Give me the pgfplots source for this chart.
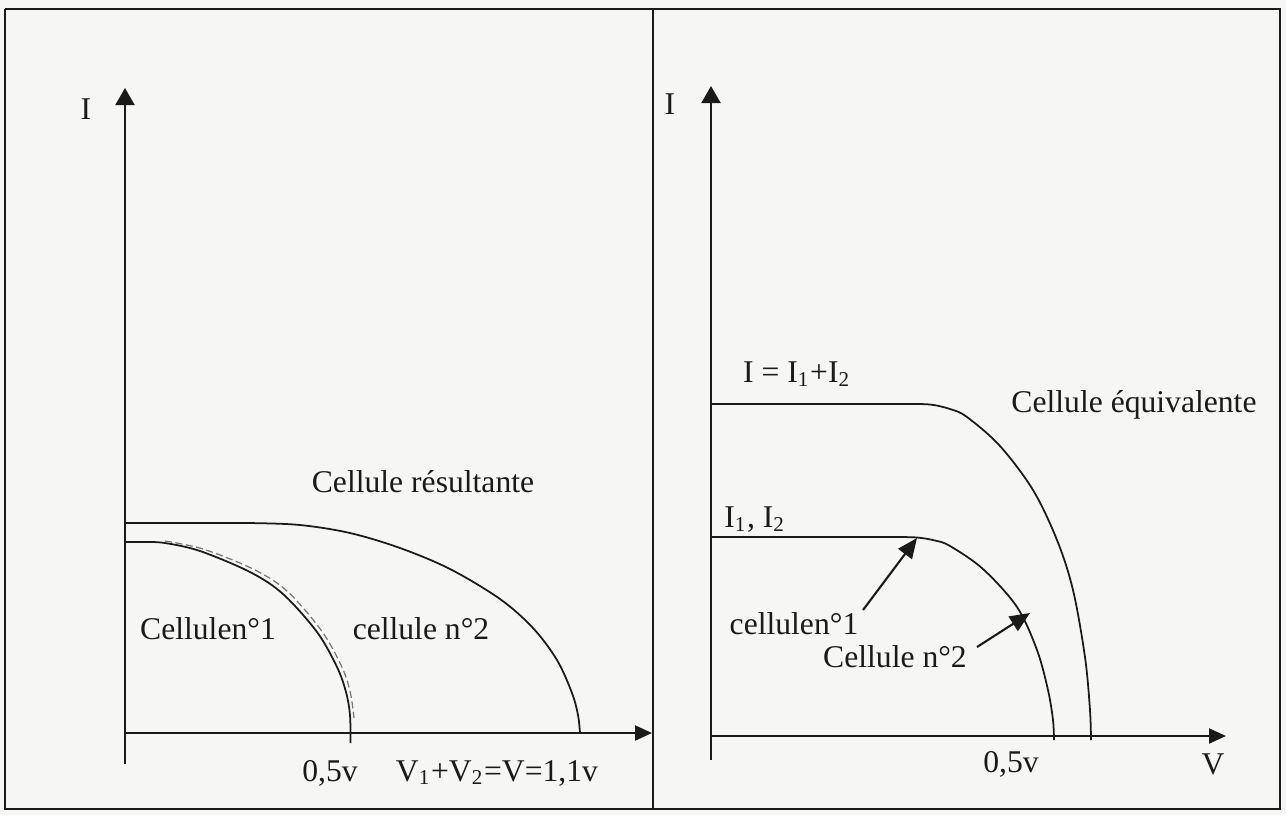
\documentclass[border=0pt]{standalone}
\usepackage{fontspec}
\setmainfont{Liberation Serif}
\usepackage{pgfplots}
\pgfplotsset{compat=1.18}
\usetikzlibrary{arrows.meta}
\definecolor{paper}{HTML}{F6F6F4}
\definecolor{ink}{HTML}{1A1A1A}
\begin{document}
\begin{tikzpicture}[every node/.style={font=\fontsize{9}{11}\selectfont, text=ink}]
\begin{axis}[
  scale only axis, width=12.86cm, height=8.15cm,
  xmin=0, xmax=1286, ymin=0, ymax=815, y dir=reverse,
  hide axis, clip=false,
]
% background and frame
\addplot[fill=paper, draw=none] coordinates {(0,0) (1286,0) (1286,815) (0,815)} -- cycle;
\addplot[ink, line width=0.7pt] coordinates {(5,9) (1280,9) (1280,809) (5,809) (5,9)};
\addplot[ink, line width=0.7pt] coordinates {(653,9) (653,809)};

% ----- left panel axes -----
\addplot[ink, line width=0.6pt, -{Triangle[length=1.7mm,width=1.9mm]}] coordinates {(125,764) (125,88)};
\addplot[ink, line width=0.6pt, -{Triangle[length=1.7mm,width=1.5mm]}] coordinates {(125,733) (652,733)};
% cellule resultante
\addplot[ink, line width=0.5pt] coordinates {(125,523) (220,523)};
\addplot[ink, line width=0.5pt, smooth, tension=0.55] coordinates {
 (220,523) (250,523) (300,525) (350,533) (400,548) (450,569) (500,599) (533,628) (557,660) (572,693) (578,715) (580,733)};
% cellule 1 (solid + dashed double)
\addplot[ink, line width=0.5pt] coordinates {(125,542) (145,542)};
\addplot[ink, line width=0.5pt, smooth, tension=0.55] coordinates {
 (145,542) (165,543) (200,551) (250,572) (283,594) (317,632) (337,667) (346,692) (350,715) (350.5,743)};
\addplot[ink!60, line width=0.35pt, dash pattern=on 2pt off 1pt, smooth, tension=0.55] coordinates {
 (165,541) (203,549) (253,569) (287,591) (321,630) (341,665) (350,691) (354,718)};

\node at (axis cs:86,109) {I};
\node at (axis cs:423,482) {Cellule résultante};
\node at (axis cs:208,629) {Cellulen°1};
\node at (axis cs:421,629) {cellule n°2};
\node at (axis cs:330,773) {0,5v};
\node at (axis cs:497,773) {V\textsubscript{1}+V\textsubscript{2}=V=1,1v};

% ----- right panel axes -----
\addplot[ink, line width=0.6pt, -{Triangle[length=1.7mm,width=1.9mm]}] coordinates {(711,760) (711,86)};
\addplot[ink, line width=0.6pt, -{Triangle[length=1.7mm,width=1.5mm]}] coordinates {(711,736) (1226,736)};
% cellule equivalente
\addplot[ink, line width=0.5pt] coordinates {(711,404) (905,404)};
\addplot[ink, line width=0.5pt, smooth, tension=0.55] coordinates {
 (905,404) (930,404.5) (950,409) (967,417) (1000,446) (1033,490) (1057,540) (1073,590) (1085,657) (1090,710) (1091,740)};
% cellules 1 et 2
\addplot[ink, line width=0.5pt] coordinates {(711,537) (895,537)};
\addplot[ink, line width=0.5pt, smooth, tension=0.55] coordinates {
 (895,537) (917,537.5) (935,540.5) (950,546) (983,569) (1017,607) (1037,650) (1048,690) (1053,720) (1054,740)};
% pointer arrows
\addplot[ink, line width=0.6pt, -{Triangle[length=2mm,width=1.7mm]}] coordinates {(863,610) (917,538)};
\addplot[ink, line width=0.6pt, -{Triangle[length=2mm,width=1.7mm]}] coordinates {(977,647) (1030,613)};

\node at (axis cs:670,104) {I};
\node at (axis cs:797,374) {I = I\textsubscript{1}+I\textsubscript{2}};
\node at (axis cs:755,520) {I\textsubscript{1}, I\textsubscript{2}};
\node at (axis cs:1134,405) {Cellule équivalente};
\node at (axis cs:794,624) {cellulen°1};
\node at (axis cs:895,657) {Cellule n°2};
\node at (axis cs:1011,764) {0,5v};
\node at (axis cs:1213,764) {V};
\end{axis}
\end{tikzpicture}
\end{document}
